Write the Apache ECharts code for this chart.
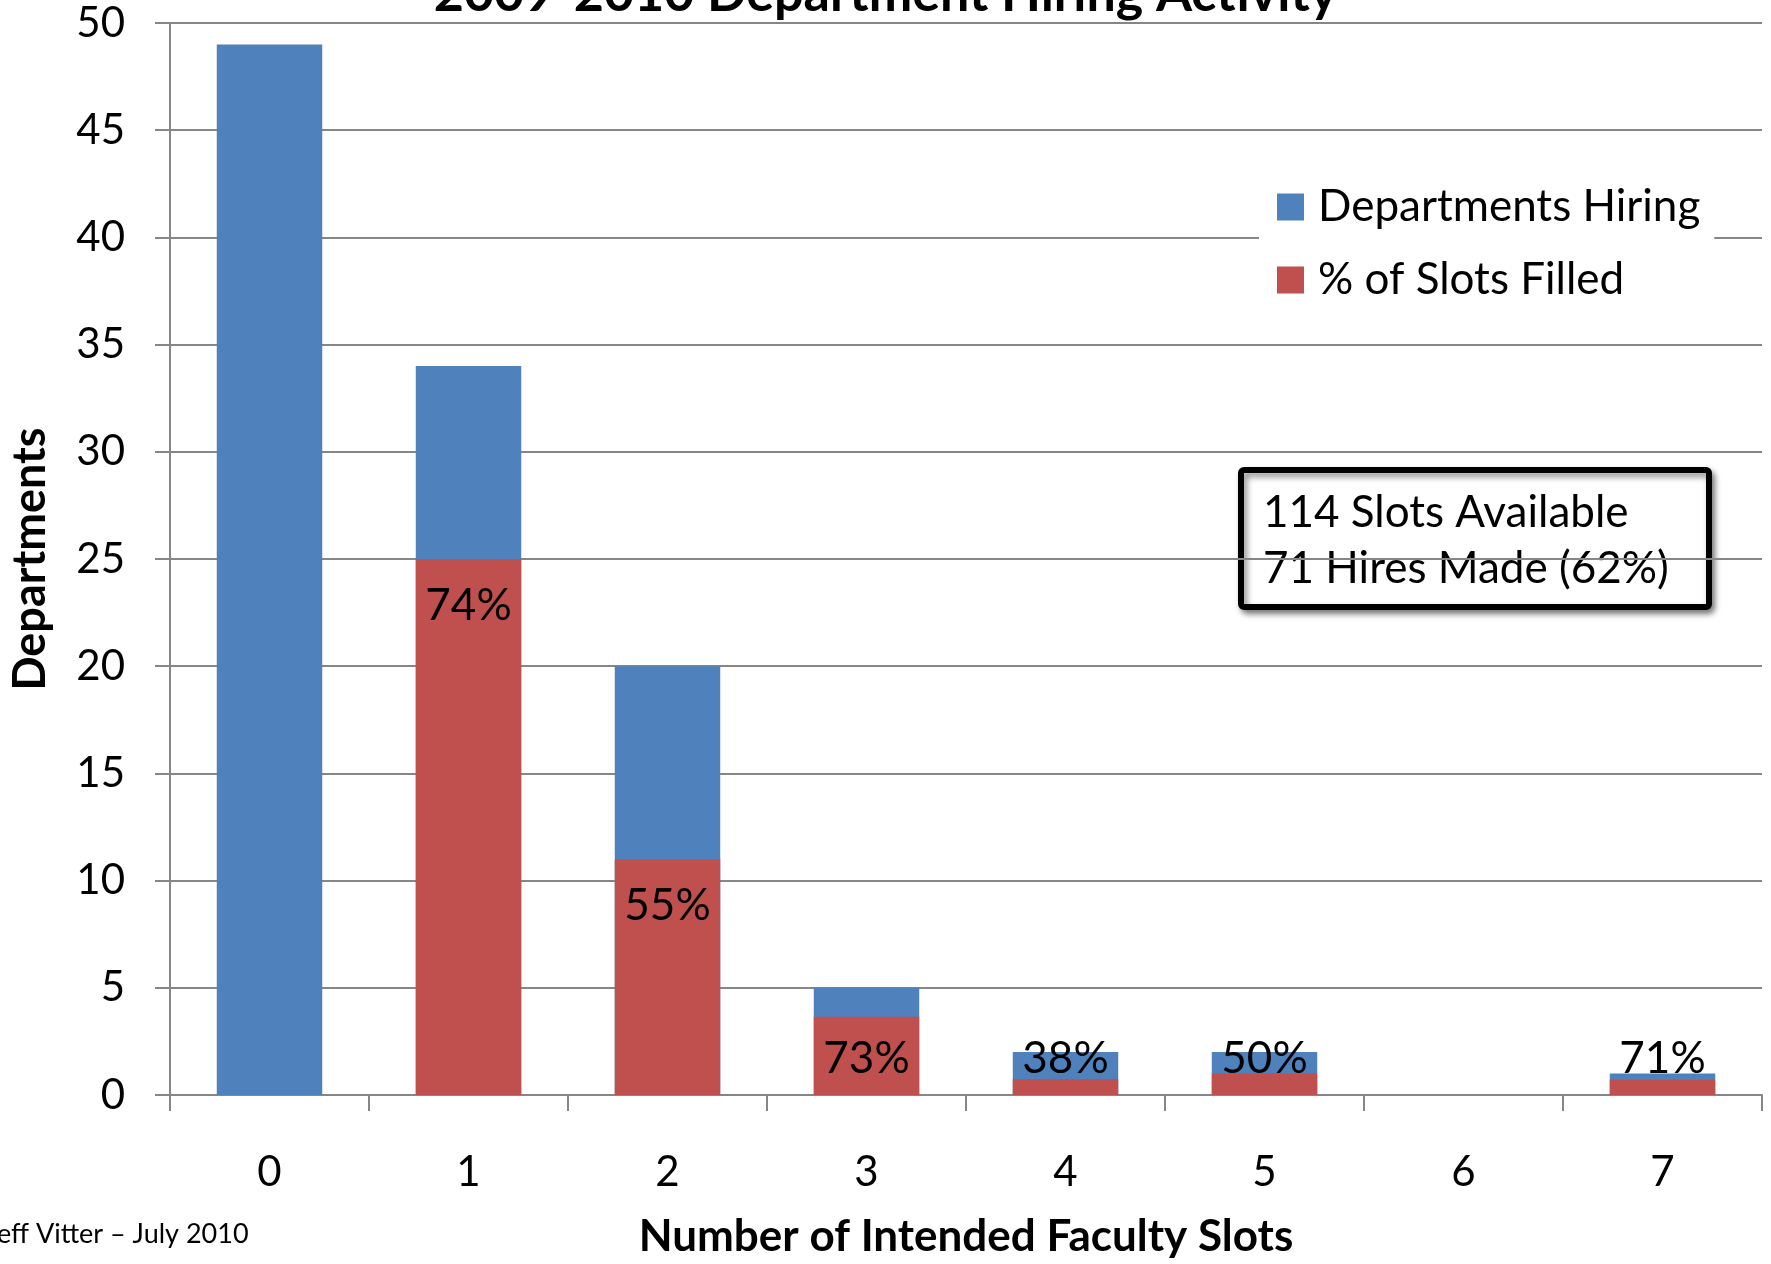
<!DOCTYPE html>
<html>
<head>
<meta charset="utf-8">
<script src="https://cdn.jsdelivr.net/npm/echarts@6/dist/echarts.min.js"></script>
<style>
html,body{margin:0;padding:0;background:#fff;}
#chart{width:1771px;height:1264px;}
</style>
</head>
<body>
<div id="chart"></div>
<script>
// ---- data ----
const slots = ['0', '1', '2', '3', '4', '5', '6', '7'];
const departmentsHiring = [49, 34, 20, 5, 2, 2, 0, 1];
const filledHeight = ['-', 25, 11, 3.65, 0.75, 1, '-', 0.71];
const filledPctLabels = ['', '74%', '55%', '73%', '38%', '50%', '', '71%'];
const yTicks = { min: 0, max: 50, interval: 5 };
const titleText = '2009-2010 Department Hiring Activity';
const noteLines = ['114 Slots Available', '71 Hires Made (62%)'];
const footerText = 'Jeff Vitter \u2013 July 2010';

const FONT = 'Lato, "Open Sans", sans-serif';
const GRID = '#868686';

const chart = echarts.init(document.getElementById('chart'), null, {renderer: 'canvas'});

const filledData = filledHeight.map(function (v) {
  if (v === '-') return '-';
  return {
    value: v,
    label: { position: v < 4 ? 'insideBottom' : 'insideTop', distance: v < 4 ? 14 : 25 }
  };
});

chart.setOption({
  animation: false,
  backgroundColor: '#ffffff',
  title: {
    text: titleText,
    left: 'center',
    top: -37,
    textStyle: { fontFamily: FONT, fontWeight: 'bold', fontSize: 52, color: '#000' }
  },
  grid: { left: 165, right: 9, top: 23, bottom: 165, containLabel: false },
  legend: {
    orient: 'vertical',
    left: 1259,
    top: 166,
    padding: [16, 14, 16, 18],
    backgroundColor: '#ffffff',
    itemWidth: 27,
    itemHeight: 27,
    itemGap: 23,
    icon: 'rect',
    textStyle: { fontFamily: FONT, fontSize: 44, color: '#000', lineHeight: 50, padding: [0, 0, 0, 9] },
    data: ['Departments Hiring', '% of Slots Filled']
  },
  xAxis: {
    type: 'category',
    data: slots,
    name: 'Number of Intended Faculty Slots',
    nameLocation: 'middle',
    nameGap: 120,
    nameTextStyle: { fontFamily: FONT, fontWeight: 'bold', fontSize: 44, color: '#000' },
    axisLine: { lineStyle: { color: GRID, width: 2 } },
    axisTick: { show: true, length: 16, lineStyle: { color: GRID, width: 2 } },
    axisLabel: { fontFamily: FONT, fontSize: 42, color: '#000', margin: 56 },
    splitLine: { show: false }
  },
  yAxis: {
    type: 'value',
    min: yTicks.min,
    max: yTicks.max,
    interval: yTicks.interval,
    name: 'Departments',
    nameLocation: 'middle',
    nameRotate: 90,
    nameGap: 117,
    nameTextStyle: { fontFamily: FONT, fontWeight: 'bold', fontSize: 45, color: '#000' },
    axisLine: { show: true, lineStyle: { color: GRID, width: 2 } },
    axisTick: { show: true, length: 15, lineStyle: { color: GRID, width: 2 } },
    axisLabel: { fontFamily: FONT, fontSize: 42, color: '#000', margin: 45 },
    splitLine: { show: true, lineStyle: { color: GRID, width: 2 } }
  },
  series: [
    {
      name: 'Departments Hiring',
      type: 'bar',
      barWidth: '53%',
      itemStyle: { color: '#4F81BD' },
      data: departmentsHiring
    },
    {
      name: '% of Slots Filled',
      type: 'bar',
      barWidth: '53%',
      barGap: '-100%',
      itemStyle: { color: '#C0504D' },
      label: {
        show: true,
        color: '#000',
        fontFamily: FONT,
        fontSize: 44,
        formatter: function (p) { return filledPctLabels[p.dataIndex]; }
      },
      labelLayout: { hideOverlap: false },
      data: filledData
    }
  ],
  graphic: [
    {
      type: 'group',
      left: 1238,
      top: 467,
      children: [
        {
          type: 'rect',
          shape: { x: 0, y: 0, width: 468, height: 137, r: 3 },
          style: { fill: '#fff', stroke: '#000', lineWidth: 6, shadowBlur: 6, shadowOffsetX: 3, shadowOffsetY: 4, shadowColor: 'rgba(0,0,0,0.45)' }
        },
        {
          type: 'text',
          x: 22, y: 43,
          style: { text: noteLines[0], font: '44px ' + FONT, fill: '#000', verticalAlign: 'middle', align: 'left' }
        },
        {
          type: 'text',
          x: 22, y: 99,
          style: { text: noteLines[1], font: '44px ' + FONT, fill: '#000', verticalAlign: 'middle', align: 'left' }
        }
      ]
    },
    {
      type: 'text',
      x: -14,
      y: 1234,
      style: { text: footerText, font: '27px ' + FONT, fill: '#000', verticalAlign: 'middle', align: 'left' }
    }
  ]
});
</script>
</body>
</html>
